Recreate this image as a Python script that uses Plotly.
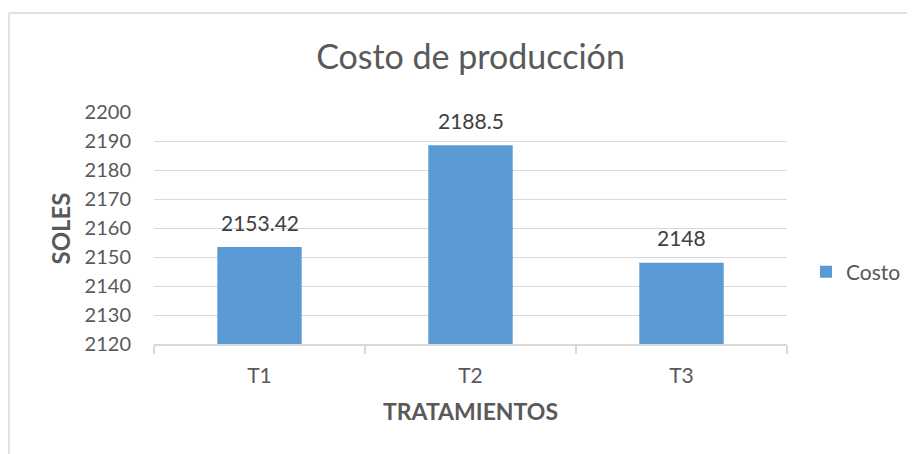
import plotly.graph_objects as go

categories = ["T1", "T2", "T3"]
costo = [2153.42, 2188.5, 2148]
y_ticks = [2120, 2130, 2140, 2150, 2160, 2170, 2180, 2190, 2200]

FONT = "Lato"
GRID = "#d9d9d9"
TXT = "#595959"

# page body has an 8px margin: figure is drawn 8px right/down
OFF = 8
W, H = 915 - OFF, 454 - OFF
PL, PT, PW, PH = 154, 112, 633, 232  # plot area in screen pixels


def px(x):
    return (x - PL) / PW


def py(y):
    return (PT + PH - y) / PH


fig = go.Figure()
fig.add_trace(go.Bar(
    x=categories, y=costo, name="Costo",
    marker=dict(color="#5B9BD5", line=dict(width=0)),
    width=0.4,
))

for c, v in zip(categories, costo):
    fig.add_annotation(x=c, y=v, text=f"{v:g}", showarrow=False,
                       yanchor="middle", yshift=25,
                       font=dict(family=FONT, size=21, color="#404040"))

fig.add_annotation(x=px(60), y=py(228.5), xref="paper", yref="paper",
                   text="<b>SOLES</b>", textangle=-90, showarrow=False,
                   xanchor="center", yanchor="middle",
                   font=dict(family=FONT, size=24, color=TXT))
fig.add_annotation(x=px(470.5), y=py(411), xref="paper", yref="paper",
                   text="<b>TRATAMIENTOS</b>", showarrow=False, yanchor="middle",
                   font=dict(family=FONT, size=23, color=TXT))

# outer chart border (left and top)
fig.add_shape(type="line", xref="paper", yref="paper",
              x0=px(9), x1=px(9), y0=py(13), y1=py(470),
              line=dict(color=GRID, width=1.5))
fig.add_shape(type="line", xref="paper", yref="paper",
              x0=px(9), x1=px(930), y0=py(13), y1=py(13),
              line=dict(color=GRID, width=1.5))

fig.update_layout(
    width=W, height=H,
    margin=dict(l=PL - OFF, r=W - (PL - OFF) - PW, t=PT - OFF,
                b=H - (PT - OFF) - PH, autoexpand=False),
    paper_bgcolor="white", plot_bgcolor="white",
    title=dict(text="Costo de producción", x=(470.5 - OFF) / W, xanchor="center",
               y=1 - (57 - OFF) / H, yanchor="middle", yref="container",
               font=dict(family=FONT, size=34, color=TXT)),
    showlegend=True,
    legend=dict(x=px(806), y=py(272), xanchor="left", yanchor="middle",
                font=dict(family=FONT, size=21, color=TXT), itemwidth=30),
    bargap=0.6,
)
fig.update_yaxes(range=[2120, 2200], tickvals=y_ticks, showgrid=True, gridcolor=GRID,
                 gridwidth=1, zeroline=False, showline=False, ticks="",
                 ticklabelstandoff=22,
                 tickfont=dict(family=FONT, size=20, color=TXT))
fig.update_xaxes(showline=True, linecolor=GRID, linewidth=1.5, ticks="outside",
                 tickson="boundaries", ticklen=8, tickcolor=GRID, tickwidth=1.5,
                 ticklabelstandoff=12,
                 tickfont=dict(family=FONT, size=21, color=TXT))

fig.write_html("out.html")
